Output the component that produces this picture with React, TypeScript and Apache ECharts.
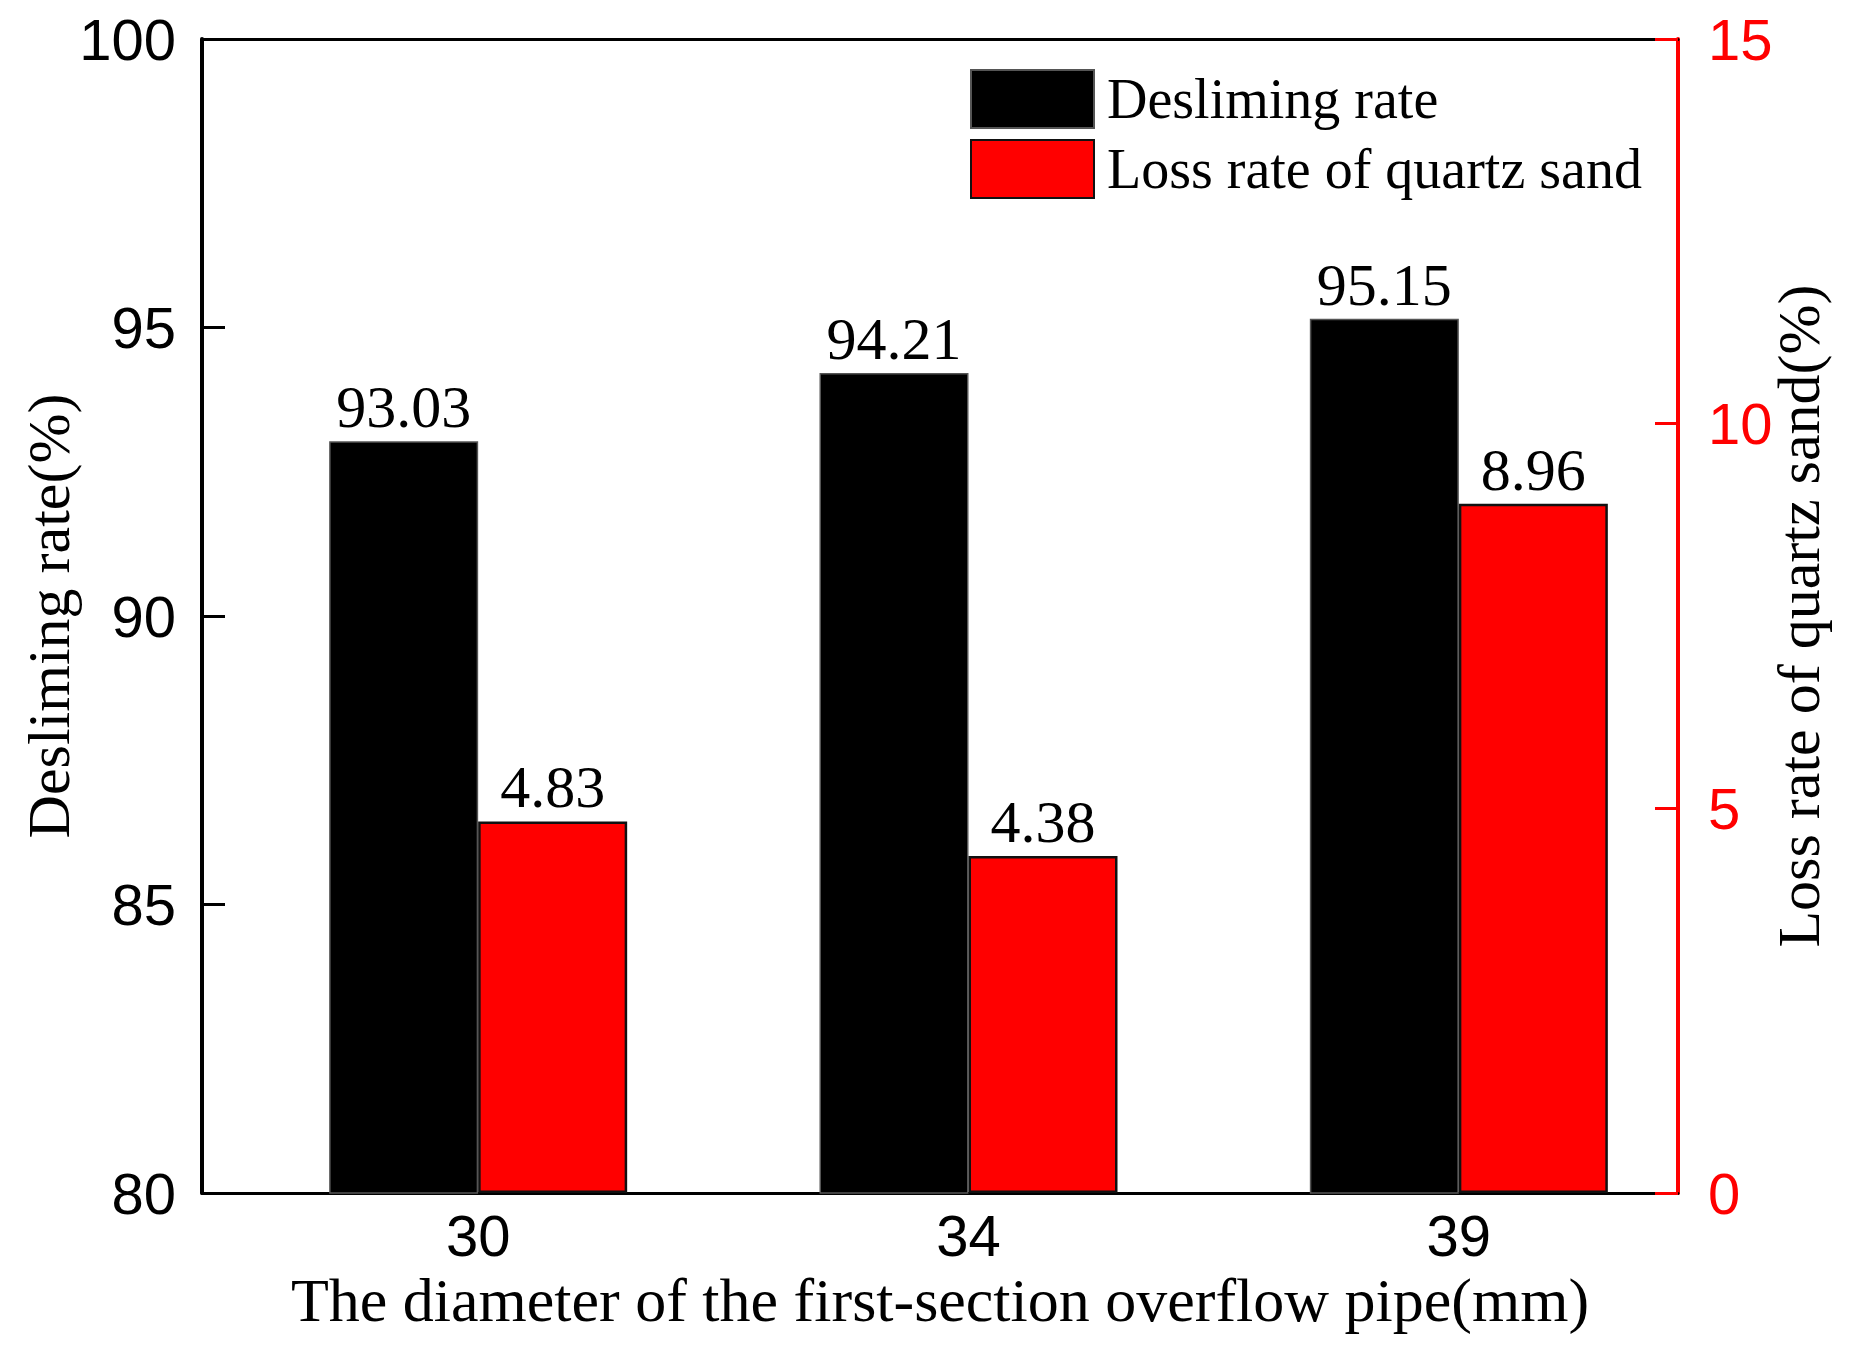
import React, { useEffect, useRef } from "react";
import * as echarts from "echarts";

const categories = ["30", "34", "39"];
const deslimingRate = [93.03, 94.21, 95.15];
const lossRate = [4.83, 4.38, 8.96];
const leftTicks = { min: 80, max: 100, interval: 5 };
const rightTicks = { min: 0, max: 15, interval: 5 };

const SERIF = "'Liberation Serif', 'Times New Roman', serif";
const SANS = "'Liberation Sans', Arial, sans-serif";

export default function App() {
  const ref = useRef<HTMLDivElement>(null);
  useEffect(() => {
    document.body.style.margin = "0";
    const chart = echarts.init(ref.current!, null, { renderer: "svg" });
    const frame = { left: 202, top: 39, width: 1476, height: 1154 };
    const barGrid = { left: 233, top: 39, width: 1471, height: 1154 };
    chart.setOption({
      animation: false,
      backgroundColor: "#fff",
      grid: [frame, barGrid],
      legend: {
        orient: "vertical",
        left: 965,
        top: 64,
        itemWidth: 123,
        itemHeight: 58,
        itemGap: 10,
        icon: "rect",
        textStyle: { fontFamily: SERIF, fontSize: 56, color: "#000", padding: [0, 0, 0, 8] },
        data: ["Desliming rate", "Loss rate of quartz sand"],
      },
      xAxis: [
        {
          gridIndex: 0,
          type: "value",
          min: 0,
          max: 1,
          position: "bottom",
          axisLine: { show: true, onZero: false, lineStyle: { color: "#000", width: 3 } },
          axisTick: { show: false },
          axisLabel: { show: false },
          splitLine: { show: false },
          name: "The diameter of the first-section overflow pipe(mm)",
          nameLocation: "middle",
          nameGap: 76,
          nameMoveOverlap: false,
          nameTextStyle: { fontFamily: SERIF, fontSize: 62, color: "#000", lineHeight: 62 },
        },
        {
          gridIndex: 0,
          type: "value",
          min: 0,
          max: 1,
          position: "top",
          axisLine: { show: true, onZero: false, lineStyle: { color: "#000", width: 3 } },
          axisTick: { show: false },
          axisLabel: { show: false },
          splitLine: { show: false },
        },
        {
          gridIndex: 1,
          type: "category",
          data: categories,
          axisLine: { show: false, onZero: false },
          axisTick: { show: false },
          axisLabel: { fontFamily: SANS, fontSize: 58, color: "#000", margin: 13, lineHeight: 58 },
        },
      ],
      yAxis: [
        {
          gridIndex: 0,
          type: "value",
          position: "left",
          min: leftTicks.min,
          max: leftTicks.max,
          interval: leftTicks.interval,
          axisLine: { show: true, onZero: false, lineStyle: { color: "#000", width: 4 } },
          axisTick: { show: true, inside: true, length: 23, lineStyle: { color: "#000", width: 3 } },
          axisLabel: { fontFamily: SANS, fontSize: 58, color: "#000", margin: 26 },
          splitLine: { show: false },
          name: "Desliming rate(%)",
          nameLocation: "middle",
          nameRotate: 90,
          nameGap: 123,
          nameMoveOverlap: false,
          nameTextStyle: { fontFamily: SERIF, fontSize: 60, color: "#000", lineHeight: 60 },
        },
        {
          gridIndex: 0,
          type: "value",
          position: "right",
          min: rightTicks.min,
          max: rightTicks.max,
          interval: rightTicks.interval,
          axisLine: { show: true, onZero: false, lineStyle: { color: "#ff0000", width: 4 } },
          axisTick: { show: true, inside: true, length: 23, lineStyle: { color: "#ff0000", width: 3 } },
          axisLabel: { fontFamily: SANS, fontSize: 58, color: "#ff0000", margin: 30 },
          splitLine: { show: false },
          name: "Loss rate of quartz sand(%)",
          nameLocation: "middle",
          nameRotate: 90,
          nameGap: 91,
          nameMoveOverlap: false,
          nameTextStyle: { fontFamily: SERIF, fontSize: 60, color: "#000", lineHeight: 60 },
        },
        {
          gridIndex: 1,
          type: "value",
          show: false,
          min: leftTicks.min,
          max: leftTicks.max,
          splitLine: { show: false },
        },
        {
          gridIndex: 1,
          type: "value",
          show: false,
          min: rightTicks.min,
          max: rightTicks.max,
          splitLine: { show: false },
        },
      ],
      series: [
        {
          name: "Desliming rate",
          type: "bar",
          xAxisIndex: 2,
          yAxisIndex: 2,
          data: deslimingRate,
          barWidth: 149,
          barGap: "0%",
          clip: true,
          itemStyle: { color: "#000", borderColor: "#555", borderWidth: 1.5 },
          label: {
            show: true,
            position: "top",
            distance: 4,
            fontFamily: SERIF,
            fontSize: 60,
            color: "#000",
            formatter: (p: any) => p.value.toFixed(2),
          },
        },
        {
          name: "Loss rate of quartz sand",
          type: "bar",
          xAxisIndex: 2,
          yAxisIndex: 3,
          data: lossRate,
          barWidth: 149,
          barGap: "0%",
          clip: true,
          itemStyle: { color: "#ff0000", borderColor: "#111", borderWidth: 2.5 },
          label: {
            show: true,
            position: "top",
            distance: 4,
            fontFamily: SERIF,
            fontSize: 60,
            color: "#000",
            formatter: (p: any) => p.value.toFixed(2),
          },
        },
      ],
    });
    return () => chart.dispose();
  }, []);
  return <div ref={ref} style={{ width: 1855, height: 1345 }} />;
}
